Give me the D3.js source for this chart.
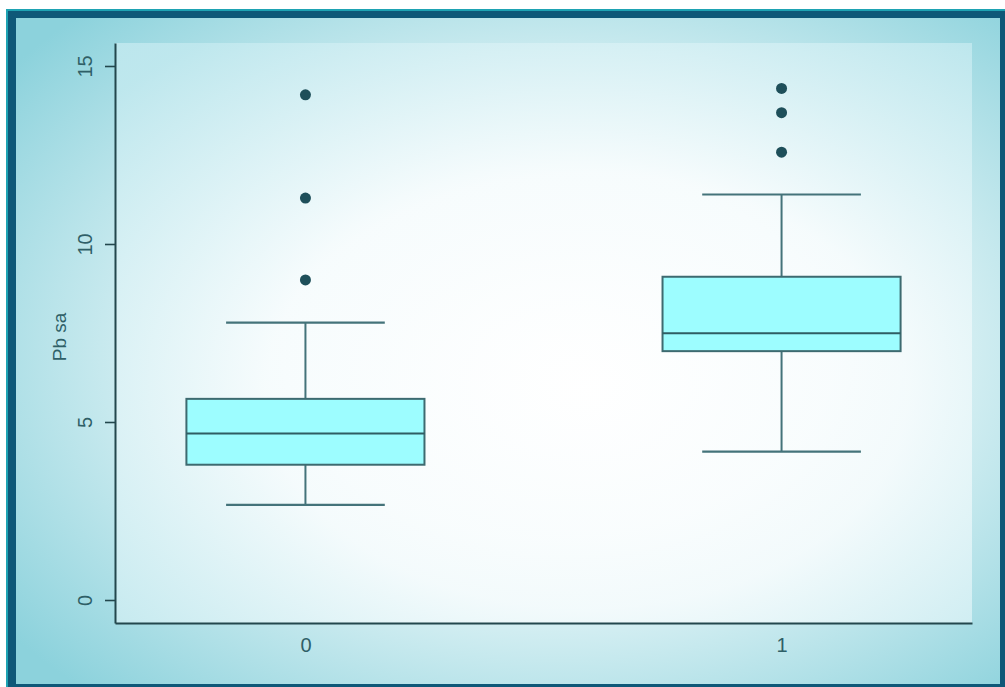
<!DOCTYPE html>
<html>
<head>
<meta charset="utf-8">
<script src="https://cdn.jsdelivr.net/npm/d3@7"></script>
<style>
  html, body { margin: 0; padding: 0; background: #ffffff; }
  svg { display: block; }
  text { font-family: "Liberation Sans", Arial, sans-serif; }
</style>
</head>
<body>
<svg id="chart" width="1005" height="687"></svg>
<script>
// ---- data ----
const categories = ["0", "1"];
const whiskerLow = [2.67, 4.17];
const q1 = [3.80, 6.99];
const median = [4.68, 7.49];
const q3 = [5.65, 9.08];
const whiskerHigh = [7.79, 11.39];
const outliers0 = [8.99, 11.29, 14.19];
const outliers1 = [12.58, 13.69, 14.37];
const yTicks = [0, 5, 10, 15];
const yLabel = "Pb sa";

const outliers = [outliers0, outliers1];

const svg = d3.select("#chart");
const defs = svg.append("defs");

// background gradients
const g1 = defs.append("radialGradient").attr("id", "bgGrad")
  .attr("cx", "0.55").attr("cy", "0.5").attr("r", "0.7");
g1.append("stop").attr("offset", "0").attr("stop-color", "#ffffff");
g1.append("stop").attr("offset", "0.4").attr("stop-color", "#f4fbfc");
g1.append("stop").attr("offset", "1").attr("stop-color", "#8cd2dc");

const g2 = defs.append("radialGradient").attr("id", "plotGrad")
  .attr("cx", "0.55").attr("cy", "0.6").attr("r", "0.75");
g2.append("stop").attr("offset", "0").attr("stop-color", "#ffffff");
g2.append("stop").attr("offset", "0.5").attr("stop-color", "#f7fcfd");
g2.append("stop").attr("offset", "1").attr("stop-color", "#c2e9ef");

// frame
svg.append("rect").attr("x", 6).attr("y", 9).attr("width", 999).attr("height", 678).attr("fill", "#1ea3b3");
svg.append("rect").attr("x", 8).attr("y", 11).attr("width", 997).attr("height", 676).attr("fill", "#0e5878");
svg.append("rect").attr("x", 16).attr("y", 18).attr("width", 984).attr("height", 666).attr("fill", "url(#bgGrad)");

// scales
const x = d3.scaleLinear().domain([0.6, 2.4]).range([115, 972]);
const y = d3.scaleLinear().domain([-0.646, 15.646]).range([623, 43]);

svg.append("rect")
  .attr("x", x(0.6)).attr("y", y(15.646))
  .attr("width", x(2.4) - x(0.6)).attr("height", y(-0.646) - y(15.646))
  .attr("fill", "url(#plotGrad)").attr("opacity", 0.85);

const textColor = "#2f5f67";
const axisColor = "#23474d";

// y axis
const yAxis = svg.append("g").attr("transform", `translate(${x(0.6)},0)`)
  .call(d3.axisLeft(y).tickValues(yTicks).tickSize(10).tickSizeOuter(0).tickFormat(d3.format("d")));
yAxis.select(".domain").attr("stroke", axisColor).attr("stroke-width", 2);
yAxis.selectAll(".tick line").attr("stroke", axisColor).attr("stroke-width", 1.6);
yAxis.selectAll(".tick text")
  .attr("transform", "rotate(-90)")
  .attr("x", 0).attr("y", -23).attr("dy", 0)
  .attr("text-anchor", "middle")
  .attr("fill", textColor)
  .style("font-size", "20px");

// x axis
const xAxis = svg.append("g").attr("transform", `translate(0,${y(-0.646)})`)
  .call(d3.axisBottom(x).tickValues([1, 2]).tickSize(0).tickSizeOuter(0).tickFormat((d, i) => categories[i]));
xAxis.select(".domain").attr("stroke", axisColor).attr("stroke-width", 2);
xAxis.selectAll(".tick text")
  .attr("y", 28.5).attr("dy", 0)
  .attr("fill", textColor)
  .style("font-size", "20px");

// y label
svg.append("text")
  .attr("transform", `translate(66,${y(7.5) + 4}) rotate(-90)`)
  .attr("text-anchor", "middle")
  .attr("fill", textColor)
  .style("font-size", "19px")
  .text(yLabel);

// boxes
const boxW = 0.5, capW = 1 / 3;
const lineColor = "#44737a";
const boxes = svg.append("g");
categories.forEach((c, i) => {
  const cx = i + 1;
  const g = boxes.append("g");
  // whiskers
  g.append("line").attr("x1", x(cx)).attr("x2", x(cx)).attr("y1", y(whiskerHigh[i])).attr("y2", y(q3[i]))
    .attr("stroke", lineColor).attr("stroke-width", 2);
  g.append("line").attr("x1", x(cx)).attr("x2", x(cx)).attr("y1", y(q1[i])).attr("y2", y(whiskerLow[i]))
    .attr("stroke", lineColor).attr("stroke-width", 2);
  // caps
  [whiskerHigh[i], whiskerLow[i]].forEach(v => {
    g.append("line").attr("x1", x(cx - capW / 2)).attr("x2", x(cx + capW / 2)).attr("y1", y(v)).attr("y2", y(v))
      .attr("stroke", lineColor).attr("stroke-width", 2.2);
  });
  // box
  g.append("rect")
    .attr("x", x(cx - boxW / 2)).attr("y", y(q3[i]))
    .attr("width", x(cx + boxW / 2) - x(cx - boxW / 2))
    .attr("height", y(q1[i]) - y(q3[i]))
    .attr("fill", "#9dfdff")
    .attr("stroke", "#3d6a70").attr("stroke-width", 2);
  // median
  g.append("line").attr("x1", x(cx - boxW / 2)).attr("x2", x(cx + boxW / 2)).attr("y1", y(median[i])).attr("y2", y(median[i]))
    .attr("stroke", "#2f5d63").attr("stroke-width", 2);
  // outliers
  g.selectAll("circle").data(outliers[i]).join("circle")
    .attr("cx", x(cx)).attr("cy", d => y(d)).attr("r", 5.5)
    .attr("fill", "#1e4f5a");
});
</script>
</body>
</html>
